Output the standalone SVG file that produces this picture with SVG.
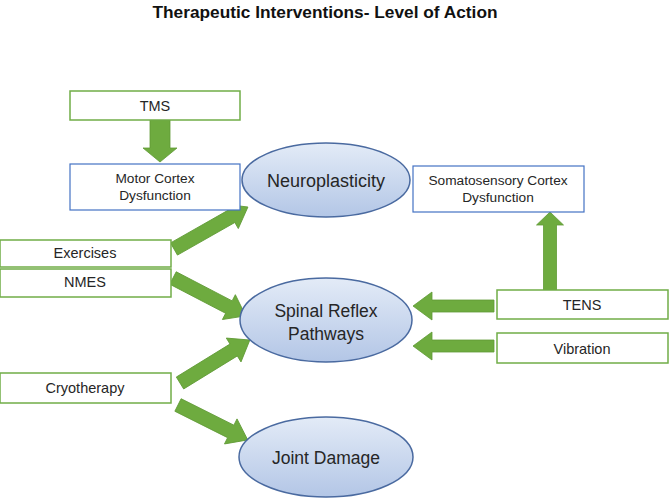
<svg xmlns="http://www.w3.org/2000/svg" width="669" height="501" viewBox="0 0 669 501">
<defs>
<linearGradient id="eg" x1="0" y1="0" x2="0" y2="1">
<stop offset="0" stop-color="#e3ebf7"/>
<stop offset="1" stop-color="#b3c6e6"/>
</linearGradient>
<style>
text{font-family:"Liberation Sans","Noto Sans",sans-serif;fill:#262626;text-anchor:middle}
.gb{fill:#fff;stroke:#70ad47;stroke-width:1.5}
.bb{fill:#fff;stroke:#4472c4;stroke-width:1.2}
.el{fill:url(#eg);stroke:#4a6aa0;stroke-width:1.5}
.ar{fill:#6eab3f;stroke:#5f9a35;stroke-width:0.8}
.t13{font-size:14.5px}
.t12{font-size:13.7px}
.t16{font-size:17.5px}
</style>
</defs>
<rect width="669" height="501" fill="#fff"/>
<text x="325" y="18" textLength="345" lengthAdjust="spacingAndGlyphs" style="font-size:16.5px;font-weight:bold;fill:#111">Therapeutic Interventions- Level of Action</text>

<g id="connectors">
<polygon class="ar" transform="translate(160,120) rotate(90)" points="0,-10 28,-10 28,-17 42,0 28,17 28,10 0,10"/>
<polygon class="ar" transform="translate(174,249) rotate(-29.6)" points="0,-7 66,-7 66,-14 85,0 66,14 66,7 0,7"/>
<polygon class="ar" transform="translate(173,278) rotate(27.5)" points="0,-7 63,-7 63,-14 82,0 63,14 63,7 0,7"/>
<polygon class="ar" transform="translate(180,383) rotate(-31.6)" points="0,-7 63,-7 63,-14 82,0 63,14 63,7 0,7"/>
<polygon class="ar" transform="translate(178,405) rotate(26.6)" points="0,-7 59,-7 59,-14 78,0 59,14 59,7 0,7"/>
<polygon class="ar" transform="translate(550,290) rotate(-90)" points="0,-6.5 65,-6.5 65,-13.5 78,0 65,13.5 65,6.5 0,6.5"/>
<polygon class="ar" transform="translate(494,306) rotate(180)" points="0,-6 62,-6 62,-14 81,0 62,14 62,6 0,6"/>
<polygon class="ar" transform="translate(494,346) rotate(180)" points="0,-6 62,-6 62,-14 81,0 62,14 62,6 0,6"/>
</g>

<g id="tms"><rect class="gb" x="70" y="91" width="170" height="29"/><text class="t13" x="155" y="111">TMS</text></g>
<g id="motor"><rect class="bb" x="70" y="164" width="170" height="46"/><text class="t12" x="155" y="183">Motor Cortex</text><text class="t12" x="155" y="200">Dysfunction</text></g>
<g id="neuro"><ellipse class="el" cx="326" cy="180" rx="84" ry="37"/><text class="t16" x="326" y="187" style="font-size:18px">Neuroplasticity</text></g>
<g id="somato"><rect class="bb" x="413" y="166" width="171" height="46"/><text class="t12" x="498" y="185">Somatosensory Cortex</text><text class="t12" x="498" y="202">Dysfunction</text></g>
<g id="exercises"><rect class="gb" x="0" y="240" width="171" height="27"/><text class="t13" x="85" y="258">Exercises</text></g>
<g id="nmes"><rect class="gb" x="0" y="269" width="171" height="28"/><text class="t13" x="85" y="287">NMES</text></g>
<g id="spinal"><ellipse class="el" cx="326" cy="320" rx="86" ry="42"/><text class="t16" x="326" y="317">Spinal Reflex</text><text class="t16" x="326" y="340">Pathways</text></g>
<g id="tens"><rect class="gb" x="497" y="290" width="171" height="29"/><text class="t13" x="582" y="310">TENS</text></g>
<g id="vibration"><rect class="gb" x="497" y="333" width="171" height="30"/><text class="t13" x="582" y="354">Vibration</text></g>
<g id="cryo"><rect class="gb" x="0" y="373" width="171" height="30"/><text class="t13" x="85" y="393">Cryotherapy</text></g>
<g id="joint"><ellipse class="el" cx="326" cy="457" rx="87" ry="40"/><text class="t16" x="326" y="464">Joint Damage</text></g>
</svg>
